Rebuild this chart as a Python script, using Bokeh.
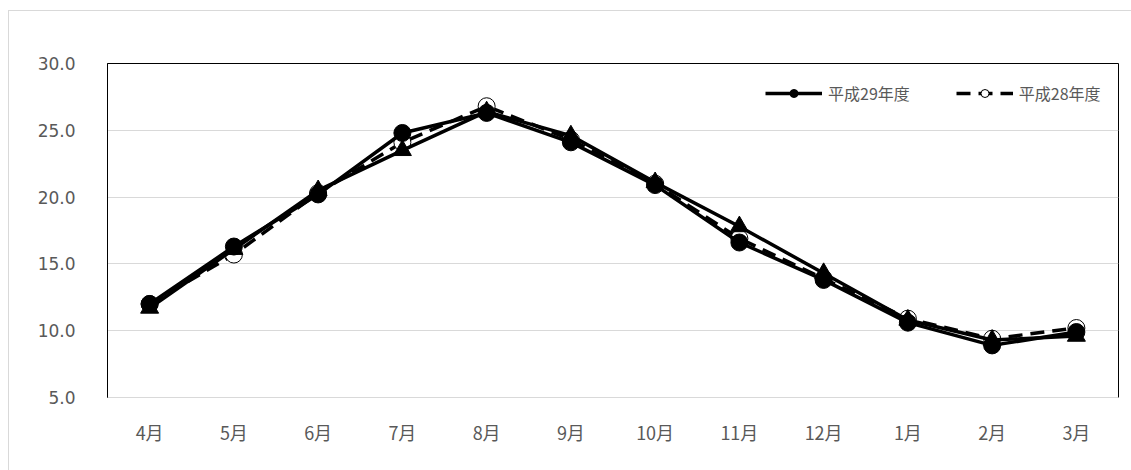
from bokeh.plotting import figure
from bokeh.models import (ColumnDataSource, FactorRange, Range1d, Legend, LegendItem,
                          SingleIntervalTicker, NumeralTickFormatter)
from bokeh.embed import file_html
from bokeh.resources import INLINE

months = ["4月", "5月", "6月", "7月", "8月", "9月", "10月", "11月", "12月", "1月", "2月", "3月"]
h29 = [12.0, 16.3, 20.2, 24.8, 26.3, 24.1, 20.9, 16.6, 13.8, 10.6, 8.9, 9.9]
h28 = [12.0, 15.7, 20.3, 24.1, 26.8, 24.3, 21.0, 16.9, 13.9, 10.9, 9.4, 10.2]
avg = [11.7, 16.1, 20.5, 23.5, 26.4, 24.6, 21.1, 17.8, 14.3, 10.8, 9.3, 9.6]
label29 = "平成29年度"
label28 = "平成28年度"

FONT = "'DejaVu Sans', 'Noto Sans CJK JP'"
CJK = "'Noto Sans CJK JP'"
GREY = "#595959"
BORDER = "#d9d9d9"

p = figure(width=1131, height=470, x_range=FactorRange(*months, range_padding=0),
           y_range=Range1d(5, 30), output_backend="svg", toolbar_location=None,
           min_border_left=107, min_border_top=63, min_border_right=13, min_border_bottom=73)
p.outline_line_color = "black"
p.outline_line_width = 1
p.background_fill_color = "white"
p.border_fill_color = None
p.styles = {
    "background-color": "white",
    "background-image": f"linear-gradient({BORDER}, {BORDER}), linear-gradient({BORDER}, {BORDER})",
    "background-size": "1px 100%, 100% 1px",
    "background-position": "8px 10px, 8px 10px",
    "background-repeat": "no-repeat",
}

src = ColumnDataSource(dict(m=months, h29=h29, h28=h28, avg=avg))

l28 = p.line("m", "h28", source=src, line_color="black", line_width=3.5, line_dash="14 8")
s28 = p.scatter("m", "h28", source=src, marker="circle", size=17, fill_color="white",
                line_color="black", line_width=1)
la = p.line("m", "avg", source=src, line_color="black", line_width=3.5)
sa = p.scatter("m", "avg", source=src, marker="triangle", size=18, fill_color="black",
               line_color="black")
l29 = p.line("m", "h29", source=src, line_color="black", line_width=3.5)
s29 = p.scatter("m", "h29", source=src, marker="circle", size=17, fill_color="black",
                line_color="black")

p.yaxis.ticker = SingleIntervalTicker(interval=5)
p.yaxis.formatter = NumeralTickFormatter(format="0.0")
p.ygrid.grid_line_color = BORDER
p.xgrid.grid_line_color = None

for ax in (p.xaxis[0], p.yaxis[0]):
    ax.major_tick_line_color = None
    ax.minor_tick_line_color = None
    ax.major_label_text_color = GREY
p.yaxis.major_label_text_font = FONT
p.yaxis.major_label_text_font_size = "17px"
p.xaxis.major_label_text_font = CJK
p.xaxis.major_label_text_font_size = "18px"
p.yaxis.axis_line_color = "black"
p.yaxis.major_label_standoff = 26
p.xaxis.axis_line_color = BORDER
p.xaxis.major_label_standoff = 15

legend = Legend(items=[LegendItem(label=label29, renderers=[l29, s29]),
                       LegendItem(label=label28, renderers=[l28, s28])],
                orientation="horizontal", location=(658, 292), padding=0, margin=0,
                spacing=46, glyph_width=57, glyph_height=20, label_standoff=6,
                label_text_font=CJK, label_text_font_size="16px",
                label_text_color=GREY, border_line_color=None,
                background_fill_alpha=0)
p.add_layout(legend)

open("out.html", "w").write(file_html(p, INLINE))
